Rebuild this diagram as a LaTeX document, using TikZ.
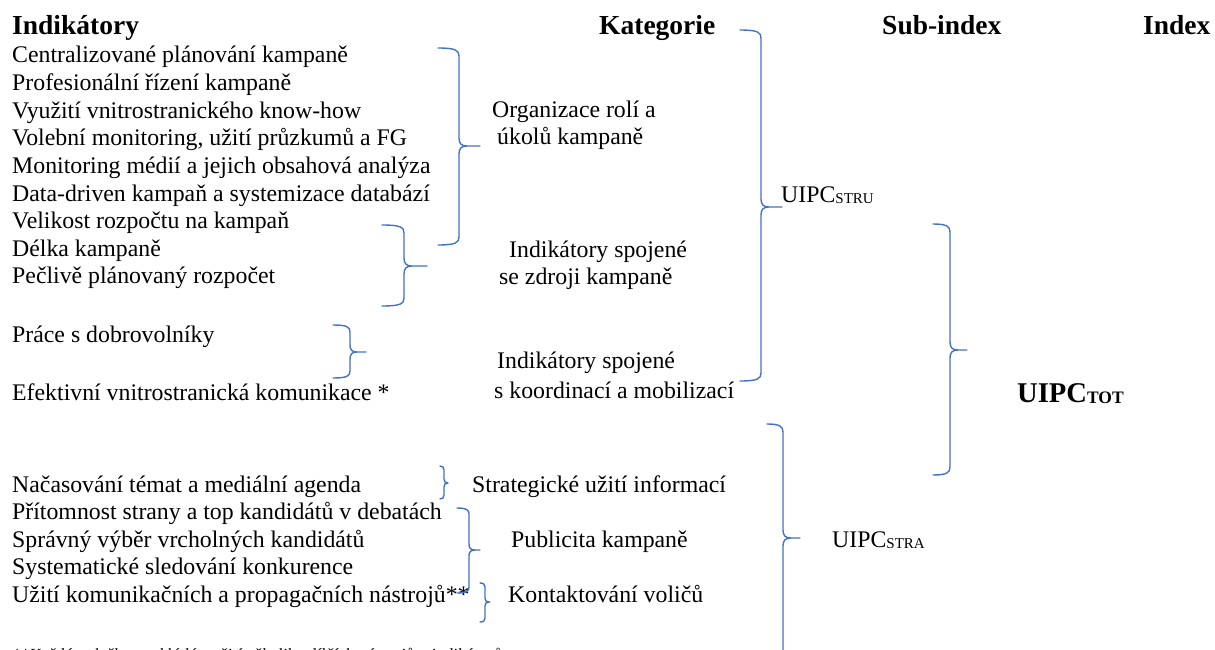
\documentclass[tikz,border=0pt]{standalone}
\usepackage{fontspec}
\setmainfont{LiberationSerif}[Extension=.ttf, UprightFont=*-Regular, BoldFont=*-Bold, ItalicFont=*-Italic, BoldItalicFont=*-BoldItalic]
\definecolor{brblue}{HTML}{4472C4}
\tikzset{
  txt/.style={anchor=base west, inner sep=0pt, font=\fontsize{23.8}{27}\selectfont},
  hdr/.style={anchor=base west, inner sep=0pt, font=\fontsize{27.5}{30}\selectfont\bfseries},
  brc/.style={draw=brblue, line width=1.4pt, line join=round, line cap=round},
  foot/.style={anchor=base west, inner sep=0pt, font=\fontsize{17}{19}\selectfont\itshape}
}
% x0 xv xt yt ym yb r
\newcommand\wbrace[7]{%
  \draw[brc] (#1,#4) .. controls ({#2-0.4*#7},#4) and (#2,{#4+0.3*#7}) .. (#2,{#4+#7})
    -- (#2,{#5-#7}) .. controls (#2,{#5-0.3*#7}) and ({#2+0.3*#7},#5) .. ({#2+#7},#5) -- (#3,#5)
    (#3,#5) -- ({#2+#7},#5) .. controls ({#2+0.3*#7},#5) and (#2,{#5+0.3*#7}) .. (#2,{#5+#7})
    -- (#2,{#6-#7}) .. controls (#2,{#6-0.3*#7}) and ({#2-0.4*#7},#6) .. (#1,#6);}
\newcommand\subsc[1]{{\fontsize{15}{15}\selectfont\raisebox{-1.5pt}{#1}}}
\begin{document}
\begin{tikzpicture}[x=1pt,y=-1pt]
\clip (0,0) rectangle (1215,650);
\fill[white] (0,0) rectangle (1215,650);
% headers
\node[hdr] (hind) at (12,35) {Indikátory};
\node[hdr] (hkat) at (599,35) {Kategorie};
\node[hdr] (hsub) at (882,35) {Sub-index};
\node[hdr] (hidx) at (1143,35) {Index};
% indicators
\node[txt] (i1) at (12,63) {Centralizované plánování kampaně};
\node[txt] (i2) at (12,90.6) {Profesionální řízení kampaně};
\node[txt] (i3) at (12,118.2) {Využití vnitrostranického know-how};
\node[txt] (i4) at (12,145.8) {Volební monitoring, užití průzkumů a FG};
\node[txt] (i5) at (12,173.4) {Monitoring médií a jejich obsahová analýza};
\node[txt] (i6) at (12,201) {Data-driven kampaň a systemizace databází};
\node[txt] (i7) at (12,228.6) {Velikost rozpočtu na kampaň};
\node[txt] (i8) at (12,256.2) {Délka kampaně};
\node[txt] (i9) at (12,283.8) {Pečlivě plánovaný rozpočet};
\node[txt] (i10) at (12,342) {Práce s dobrovolníky};
\node[txt] (i11) at (12,400) {Efektivní vnitrostranická komunikace *};
\node[txt] (i12) at (12,492) {Načasování témat a mediální agenda};
\node[txt] (i13) at (12,519.5) {Přítomnost strany a top kandidátů v debatách};
\node[txt] (i14) at (12,547) {Správný výběr vrcholných kandidátů};
\node[txt] (i15) at (12,574.5) {Systematické sledování konkurence};
\node[txt] (i16) at (12,602) {Užití komunikačních a propagačních nástrojů**};
% categories
\node[txt] (c1a) at (492,118) {Organizace rolí a};
\node[txt] (c1b) at (497,145) {úkolů kampaně};
\node[txt] (c2a) at (509,257) {Indikátory spojené};
\node[txt] (c2b) at (499,284) {se zdroji kampaně};
\node[txt] (c3a) at (497,368) {Indikátory spojené};
\node[txt] (c3b) at (494,398) {s koordinací a mobilizací};
\node[txt] (c4) at (472,492) {Strategické užití informací};
\node[txt] (c5) at (511,547) {Publicita kampaně};
\node[txt] (c6) at (508,602) {Kontaktování voličů};
% sub-indices
\node[txt] (sstru) at (781,202) {UIPC\subsc{STRU}};
\node[txt] (sstra) at (832,547) {UIPC\subsc{STRA}};
\node[anchor=base west, inner sep=0pt, font=\fontsize{28.6}{30}\selectfont\bfseries] (tot) at (1017,402)
  {UIPC{\fontsize{17.5}{17.5}\selectfont\raisebox{-1.5pt}{TOT}}};
% footnote (cut off by the page edge)
\node[foot] (fn) at (12,660) {**Každá položka se skládá z užití několika dílčích nástrojů a indikátorů};
% braces
\wbrace{438}{459}{480}{48}{146}{245}{8}
\wbrace{382}{404}{427}{225}{266}{306}{8}
\wbrace{333}{350}{366}{325}{352}{378}{7}
\wbrace{740}{761}{782}{30}{207}{381}{8}
\wbrace{933}{950}{967}{224}{350}{475}{8}
\wbrace{767}{783}{800}{424}{538}{700}{8}
\wbrace{440}{444}{448}{466}{483}{499}{4}
\wbrace{457}{469}{480}{508}{550}{593}{6}
\wbrace{480}{485}{490}{583}{602}{622}{4}
\end{tikzpicture}
\end{document}
